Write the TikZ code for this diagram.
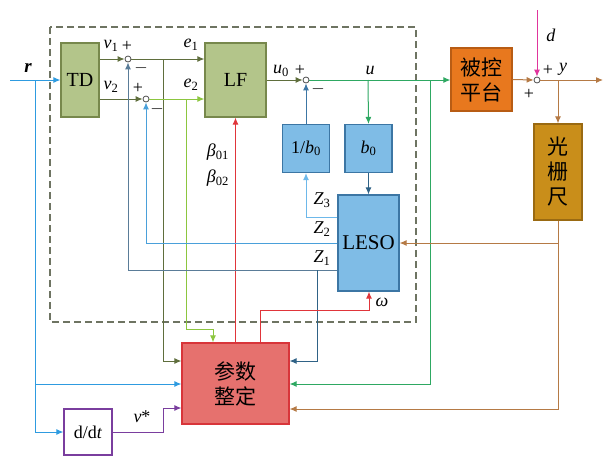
\documentclass[tikz,border=0pt]{standalone}
\usepackage{fontspec}
\setmainfont{Liberation Serif}
\newfontfamily\cjk{Noto Sans CJK SC}
\usetikzlibrary{arrows.meta}
\definecolor{oF}{HTML}{B3C58A}
\definecolor{oD}{HTML}{77884C}
\definecolor{bF}{HTML}{7FBCE6}
\definecolor{bD}{HTML}{3C76A4}
\definecolor{orF}{HTML}{E8781E}
\definecolor{orD}{HTML}{B85C14}
\definecolor{gF}{HTML}{C98E1A}
\definecolor{gD}{HTML}{9A6A12}
\definecolor{tF}{HTML}{E6716E}
\definecolor{tD}{HTML}{D8353A}
\definecolor{pur}{HTML}{7A3E9E}
\definecolor{rC}{HTML}{2E9BE0}
\definecolor{olC}{HTML}{5F6E3C}
\definecolor{lgC}{HTML}{8CC63F}
\definecolor{gC}{HTML}{2EA862}
\definecolor{redC}{HTML}{E0353A}
\definecolor{brC}{HTML}{B57A45}
\definecolor{mgC}{HTML}{E0359C}
\definecolor{zoneC}{HTML}{5A7C98}
\definecolor{ztwoC}{HTML}{4AA0DA}
\definecolor{zthreeC}{HTML}{6DB8EA}
\definecolor{dkB}{HTML}{2F6286}
\definecolor{dashC}{HTML}{6E7462}
\begin{document}
\begin{tikzpicture}[x=1pt,y=-1pt,line width=1pt,
  tip/.style={-{Latex[length=7pt,width=6pt]}},
  box/.style={draw,line width=1.2pt,inner sep=0pt,align=center},
  olivebox/.style={box,draw=oD,fill=oF,font=\fontsize{20}{22}\selectfont},
  bluebox/.style={box,draw=bD,fill=bF,font=\fontsize{18}{20}\selectfont},
  sumc/.style={circle,draw=black!70,fill=white,minimum size=6pt,inner sep=0pt,line width=0.8pt},
  lbl/.style={font=\fontsize{18}{18}\selectfont,inner sep=0pt},
  cjkbox/.style={box,font=\cjk\fontsize{21}{25}\selectfont}]
\useasboundingbox (0,0) rectangle (606,456);
% dashed frame
\draw[dashC,dash pattern=on 7pt off 4pt,line width=1.3pt] (50,27) rectangle (416,322);
% blocks
\node[olivebox,minimum width=38pt,minimum height=74pt] (TD) at (80,80) {TD};
\node[olivebox,minimum width=61pt,minimum height=74pt] (LF) at (235.5,80) {LF};
\node[bluebox,minimum width=47pt,minimum height=48pt] (inv) at (306,148.5) {1/\textit{b}\textsubscript{0}};
\node[bluebox,minimum width=47pt,minimum height=48pt] (bz) at (368.5,148.5) {\textit{b}\textsubscript{0}};
\node[bluebox,minimum width=61pt,minimum height=96pt,font=\fontsize{21}{22}\selectfont] (LESO) at (368.5,243) {LESO};
\node[cjkbox,draw=orD,fill=orF,minimum width=61pt,minimum height=63pt] (plant) at (481.5,79.5) {被控\\平台};
\node[cjkbox,draw=gD,fill=gF,minimum width=48pt,minimum height=96pt] (grat) at (558,172) {光\\栅\\尺};
\node[cjkbox,draw=tD,fill=tF,minimum width=107pt,minimum height=81pt] (tune) at (235.5,383.5) {参数\\整定};
\node[box,draw=pur,fill=white,minimum width=48pt,minimum height=46pt,font=\fontsize{18}{20}\selectfont] (ddt) at (88,432) {d/d\textit{t}};
% sums
\node[sumc] (s1) at (128,59) {};
\node[sumc] (s2) at (146,99) {};
\node[sumc] (s3) at (306,80) {};
\node[sumc] (s4) at (537,80) {};
% helper coordinates
\coordinate (rin) at (10,80);
\coordinate (rb) at (35,80);
\coordinate (y361) at (0,361);
\coordinate (y384) at (0,384);
\coordinate (y409) at (0,409);
\coordinate (y408) at (0,408);
\coordinate (y217) at (0,217);
\coordinate (y270) at (0,270);
\coordinate (y243) at (0,243);
\coordinate (eb) at (163,59);
\coordinate (ebb) at (186,99);
\coordinate (e2c) at (186,329);
\coordinate (t213) at (213,329);
\coordinate (ub) at (368,80);
\coordinate (ub2) at (430,80);
\coordinate (zb) at (317,270);
\coordinate (om1) at (260,310);
\coordinate (om2) at (369,310);
\coordinate (yb) at (558,80);
\coordinate (yout) at (603,80);
\coordinate (din) at (537,10);
\coordinate (gb) at (558,243);
\coordinate (vb) at (163,432);
% r input
\draw[rC,tip] (rin) -- (TD.west);
\draw[rC,tip] (rb) |- (ddt.west);
\draw[rC,tip] (rb |- y384) -- (tune.west |- y384);
% v1, v2
\draw[olC,tip] (TD.east |- s1) -- (s1.west);
\draw[olC,tip] (TD.east |- s2) -- (s2.west);
% e1, e2
\draw[olC,tip] (s1.east) -- (LF.west |- s1);
\draw[olC,tip] (eb) |- (tune.west |- y361);
\draw[lgC,tip] (s2.east) -- (LF.west |- s2);
\draw[lgC,tip] (ebb) -- (e2c) -- (t213) -- (t213 |- tune.north);
% beta
\draw[redC,tip] (LF.south |- tune.north) -- (LF.south);
% u0, u
\draw[olC,tip] (LF.east |- s3) -- (s3.west);
\draw[gC,tip] (s3.east) -- (plant.west |- s3);
\draw[gC,tip] (ub) -- (bz.north);
\draw[gC,tip] (ub2) |- (tune.east |- y384);
\draw[dkB,tip] (bz.south) -- (LESO.north -| bz.south);
% Z signals
\draw[zthreeC,tip] (LESO.west |- y217) -| (inv.south);
\draw[bD,tip] (inv.north) -- (s3.south);
\draw[ztwoC,tip] (LESO.west |- y243) -| (s2.south);
\draw[zoneC,tip] (LESO.west |- y270) -| (s1.south);
\draw[dkB,tip] (zb) |- (tune.east |- y361);
% omega
\draw[redC,tip] (om1 |- tune.north) -- (om1) -- (om2) -- (om2 |- LESO.south);
% plant output
\draw[brC,tip] (plant.east) -- (s4.west);
\draw[brC,tip] (s4.east) -- (yout);
\draw[brC,tip] (yb) -- (grat.north);
\draw[brC,tip] (grat.south) |- (tune.east |- y409);
\draw[brC,tip] (gb) -- (LESO.east |- gb);
\draw[mgC,tip] (din) -- (s4.north);
% d/dt output
\draw[pur,tip] (ddt.east) -- (vb) |- (tune.west |- y408);
% labels
\node[lbl,font=\fontsize{19}{19}\selectfont\itshape\bfseries] at (28,68) {r};
\node[lbl] at (111,46) {\textit{v}\textsubscript{1}};
\node[lbl] at (127,46) {+};
\node[lbl] at (141,68) {$-$};
\node[lbl] at (111,87) {\textit{v}\textsubscript{2}};
\node[lbl] at (138,88) {+};
\node[lbl] at (157,109) {$-$};
\node[lbl] at (191,45) {\textit{e}\textsubscript{1}};
\node[lbl] at (191,85) {\textit{e}\textsubscript{2}};
\node[lbl] at (218,152) {\textit{β}\textsubscript{01}};
\node[lbl] at (218,178) {\textit{β}\textsubscript{02}};
\node[lbl] at (281,71) {\textit{u}\textsubscript{0}};
\node[lbl] at (300,70) {+};
\node[lbl] at (318,89) {$-$};
\node[lbl] at (370,70) {\textit{u}};
\node[lbl] at (322,200) {\textit{Z}\textsubscript{3}};
\node[lbl] at (322,229) {\textit{Z}\textsubscript{2}};
\node[lbl] at (322,258) {\textit{Z}\textsubscript{1}};
\node[lbl] at (382,302) {\textit{ω}};
\node[lbl] at (551,35) {\textit{d}};
\node[lbl] at (548,70) {+};
\node[lbl] at (563,69) {\textit{y}};
\node[lbl] at (529,94) {+};
\node[lbl] at (142,417) {\textit{v}*};
\end{tikzpicture}
\end{document}
